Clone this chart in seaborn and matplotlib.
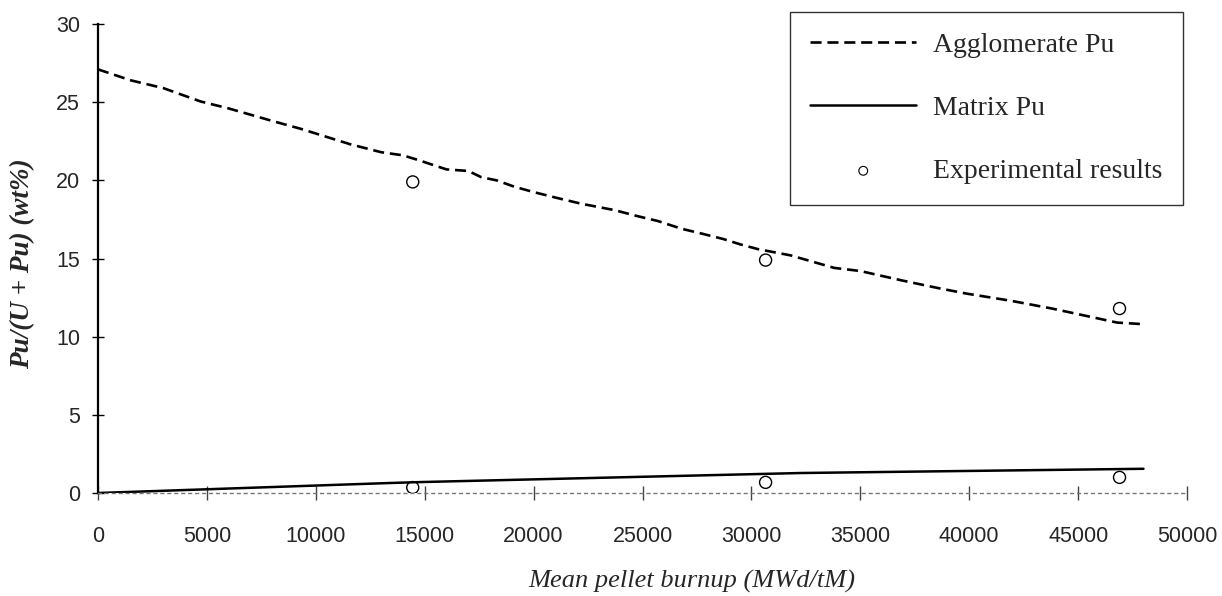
import matplotlib
matplotlib.use("Agg")
import matplotlib.pyplot as plt
import seaborn as sns
import pandas as pd

# ---- data ----
agg_x = [0, 1500, 3000, 4700, 6000, 8000, 9300, 11600, 13000, 14000, 14700,
         16000, 17000, 17600, 18300, 19100, 20000, 21000, 22200, 23700, 24800,
         25700, 26800, 27700, 28700, 29500, 30300, 31800, 33800, 35000, 36900,
         38600, 39900, 41900, 43800, 45300, 46800, 48000]
agg_y = [27.1, 26.4, 25.9, 25.05, 24.6, 23.8, 23.3, 22.3, 21.8, 21.6, 21.3,
         20.7, 20.6, 20.2, 20.0, 19.6, 19.25, 18.9, 18.5, 18.1, 17.7,
         17.4, 16.9, 16.6, 16.25, 15.9, 15.6, 15.2, 14.4, 14.2, 13.6,
         13.1, 12.75, 12.3, 11.8, 11.35, 10.9, 10.8]
mat_x = [0, 13400, 14800, 32300, 48000]
mat_y = [0.0, 0.64, 0.7, 1.28, 1.55]
exp_x = [14450, 30650, 46900, 14450, 30650, 46900]
exp_y = [19.9, 14.9, 11.8, 0.35, 0.68, 1.0]

legend_labels = ["Agglomerate Pu", "Matrix Pu", "Experimental results"]
x_label = "Mean pellet burnup (MWd/tM)"
y_label = "Pu/(U + Pu) (wt%)"
x_ticks = [0, 5000, 10000, 15000, 20000, 25000, 30000, 35000, 40000, 45000, 50000]
y_ticks = [0, 5, 10, 15, 20, 25, 30]

agg_df = pd.DataFrame({"x": agg_x, "y": agg_y})
mat_df = pd.DataFrame({"x": mat_x, "y": mat_y})
exp_df = pd.DataFrame({"x": exp_x, "y": exp_y})

sns.set_theme(style="white")
plt.rcParams["font.family"] = ["Liberation Sans", "DejaVu Sans"]

fig = plt.figure(figsize=(12.22, 5.96), dpi=100)
ax = fig.add_axes([0.0802, 0.1728, 0.8912, 0.7869])

sns.lineplot(data=agg_df, x="x", y="y", ax=ax, color="black", linewidth=1.9,
             label=legend_labels[0], dashes=False)
ax.lines[-1].set_linestyle((0, (4.2, 2.2)))
sns.lineplot(data=mat_df, x="x", y="y", ax=ax, color="black", linewidth=1.8,
             label=legend_labels[1])
sns.scatterplot(data=exp_df, x="x", y="y", ax=ax, marker="o", s=75,
                facecolor="none", edgecolor="black", linewidth=1.0,
                label=legend_labels[2])

ax.set_xlim(0, 50000)
ax.set_ylim(0, 30)
ax.set_xticks(x_ticks)
ax.set_yticks(y_ticks)
ax.set_xticklabels([str(t) for t in x_ticks])
ax.set_yticklabels([str(t) for t in y_ticks])

for s in ["top", "right"]:
    ax.spines[s].set_visible(False)
ax.spines["left"].set_color("black")
ax.spines["left"].set_linewidth(1.6)
ax.spines["bottom"].set_color("#777777")
ax.spines["bottom"].set_linewidth(1.0)
ax.spines["bottom"].set_linestyle((0, (2, 3)))

ax.tick_params(axis="y", direction="inout", length=8, width=1.0, color="black",
               labelsize=15.5, pad=9, left=True)
ax.tick_params(axis="x", direction="inout", length=10, width=1.0, color="#444444",
               labelsize=15.5, pad=19, bottom=True)

ax.set_xlabel(x_label, fontsize=19, fontstyle="italic",
              family=["Liberation Serif", "DejaVu Serif"])
ax.xaxis.set_label_coords(0.545, -0.165)
ax.set_ylabel(y_label, fontsize=19.5, fontstyle="italic", fontweight="bold",
              family=["Liberation Serif", "DejaVu Serif"])
ax.yaxis.set_label_coords(-0.058, 0.49)

handles, labels = ax.get_legend_handles_labels()
leg = ax.legend(handles, labels, loc="upper right",
                bbox_to_anchor=(0.968, 0.98), bbox_transform=fig.transFigure,
                frameon=True, fancybox=False, handlelength=3.8, handletextpad=0.6,
                labelspacing=1.35, borderpad=0.75, borderaxespad=0,
                prop={"family": ["Liberation Serif", "DejaVu Serif"], "size": 20})
leg.get_frame().set_edgecolor("black")
leg.get_frame().set_linewidth(1.0)
for h in leg.legend_handles:
    try:
        h.set_sizes([40])
        h.set_linewidth(0.8)
    except Exception:
        pass

fig.savefig("out.png", dpi=100, facecolor="white")
